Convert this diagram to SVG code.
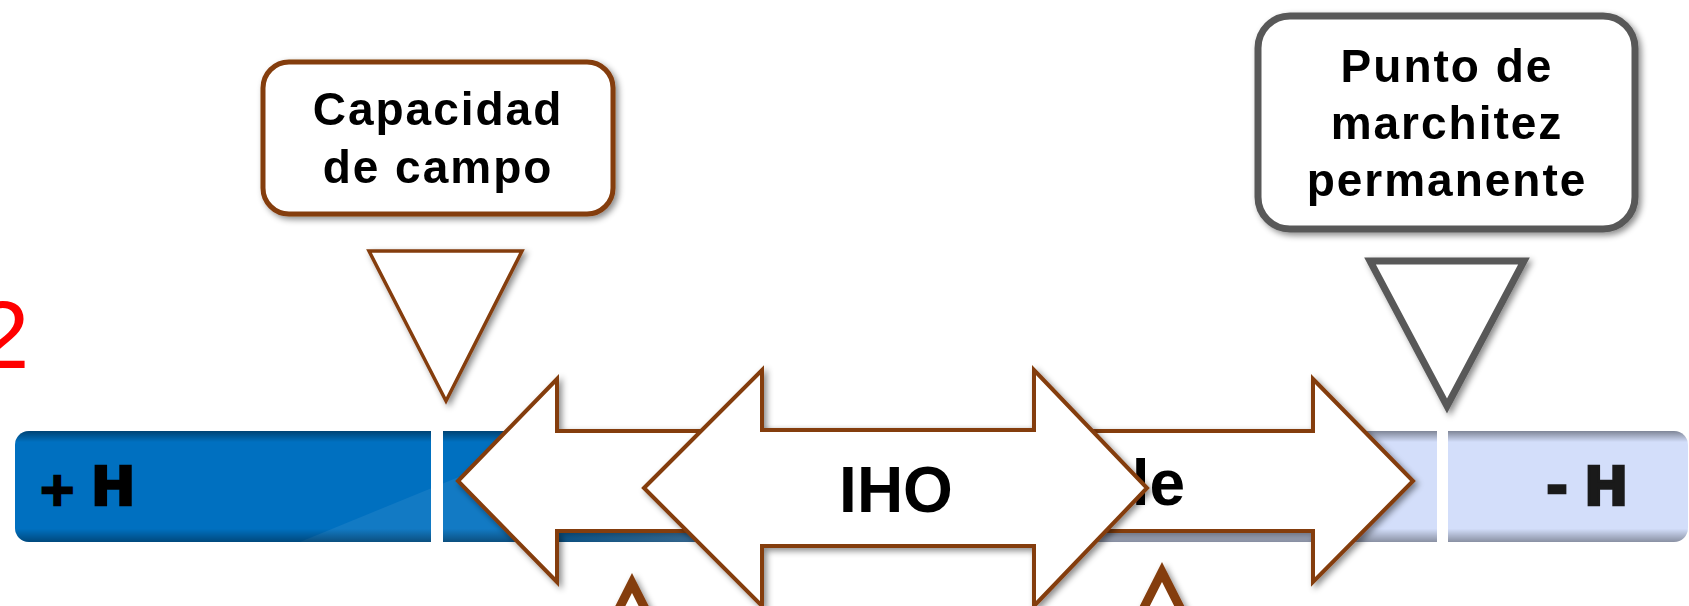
<svg xmlns="http://www.w3.org/2000/svg" width="1689" height="606" viewBox="0 0 1689 606">
  <style>
    .lbl { font-family: "Liberation Sans", Arial, sans-serif; font-weight: bold; fill: #000; }
    .box-text { font-size: 46px; letter-spacing: 2px; text-anchor: middle; }
    .big { font-size: 64px; }
    .hmark { font-family: "DejaVu Sans", "Liberation Sans", sans-serif; font-weight: bold; font-size: 53px; stroke-width: 2.5px; stroke-linejoin: miter; }
    .brown { fill: #fff; stroke: #843C0C; stroke-linejoin: miter; }
    .gray { fill: #fff; stroke: #595959; stroke-linejoin: miter; }
  </style>
  <defs>
    <filter id="shadow" x="-20%" y="-20%" width="140%" height="140%">
      <feDropShadow dx="3" dy="3" stdDeviation="3" flood-color="#000" flood-opacity="0.45"/>
    </filter>
    <linearGradient id="barColor" gradientUnits="userSpaceOnUse" x1="15" y1="0" x2="1688" y2="0">
      <stop offset="0" stop-color="#0070C0"/>
      <stop offset="0.326" stop-color="#0070C0"/>
      <stop offset="0.589" stop-color="#D3DEFA"/>
      <stop offset="1" stop-color="#D3DEFA"/>
    </linearGradient>
    <linearGradient id="barShade" x1="0" y1="0" x2="0" y2="1">
      <stop offset="0" stop-color="#000" stop-opacity="0.4"/>
      <stop offset="0.1" stop-color="#000" stop-opacity="0"/>
      <stop offset="0.88" stop-color="#000" stop-opacity="0"/>
      <stop offset="1" stop-color="#000" stop-opacity="0.35"/>
    </linearGradient>
    <clipPath id="barClip">
      <rect x="15" y="431" width="1673" height="111" rx="14" ry="14"/>
    </clipPath>
  </defs>

  <!-- red number at left edge -->
  <text x="-24" y="368" font-family="Liberation Sans, Arial, sans-serif" font-size="96" fill="#FF0000">2</text>

  <!-- humidity bar -->
  <g id="bar">
    <rect x="15" y="431" width="1673" height="111" rx="14" ry="14" fill="url(#barColor)"/>
    <g clip-path="url(#barClip)">
      <polygon points="300,542 720,370 720,542" fill="#fff" opacity="0.07"/>
      <rect x="15" y="431" width="1673" height="111" fill="url(#barShade)"/>
    </g>
    <rect x="431" y="428" width="12" height="117" fill="#fff"/>
    <rect x="1437" y="428" width="11" height="117" fill="#fff"/>
    <text class="hmark" y="505" fill="#000" stroke="#000"><tspan x="38" font-size="46">+</tspan><tspan x="78"> </tspan><tspan x="91">H</tspan></text>
    <text class="hmark" y="505" fill="#1a1a1a" stroke="#1a1a1a"><tspan x="1546">-</tspan><tspan x="1570"> </tspan><tspan x="1584">H</tspan></text>
  </g>

  <!-- Capacidad de campo -->
  <g id="capacidad-campo" filter="url(#shadow)">
    <rect class="brown" x="263" y="62" width="350" height="152" rx="26" ry="26" stroke-width="5"/>
    <text class="lbl box-text" x="438" y="125">Capacidad</text>
    <text class="lbl box-text" x="438" y="183">de campo</text>
  </g>

  <!-- Punto de marchitez permanente -->
  <g id="punto-marchitez" filter="url(#shadow)">
    <rect class="gray" x="1258" y="16" width="377" height="213" rx="32" ry="32" stroke-width="7"/>
    <text class="lbl box-text" x="1447" y="82">Punto de</text>
    <text class="lbl box-text" x="1447" y="139">marchitez</text>
    <text class="lbl box-text" x="1447" y="196">permanente</text>
  </g>

  <!-- pointers -->
  <g id="connectors" filter="url(#shadow)">
    <polygon class="brown" points="369,251 522,251 446,401" stroke-width="3.5"/>
    <polygon class="gray" points="1370,261 1524,261 1447,406" stroke-width="7"/>
    <polygon class="brown" points="632,583 712,741 552,741" stroke-width="9"/>
    <polygon class="brown" points="1162,572 1242,730 1082,730" stroke-width="9"/>
  </g>

  <!-- Agua disponible arrow (back) -->
  <g id="arrow-agua">
    <path class="brown" filter="url(#shadow)" stroke-width="4" d="M458,481 L557,379 L557,431 L1313,431 L1313,379 L1413,481 L1313,582 L1313,531 L557,531 L557,582 Z"/>
    <text class="lbl big" x="1185" y="505" text-anchor="end">le</text>
  </g>

  <!-- IHO arrow (front) -->
  <g id="arrow-iho">
    <path class="brown" filter="url(#shadow)" stroke-width="4" d="M644,488 L762,370 L762,430 L1034,430 L1034,370 L1147,488 L1034,606 L1034,546 L762,546 L762,606 Z"/>
    <text class="lbl big" x="896" y="512" text-anchor="middle">IHO</text>
  </g>
</svg>
